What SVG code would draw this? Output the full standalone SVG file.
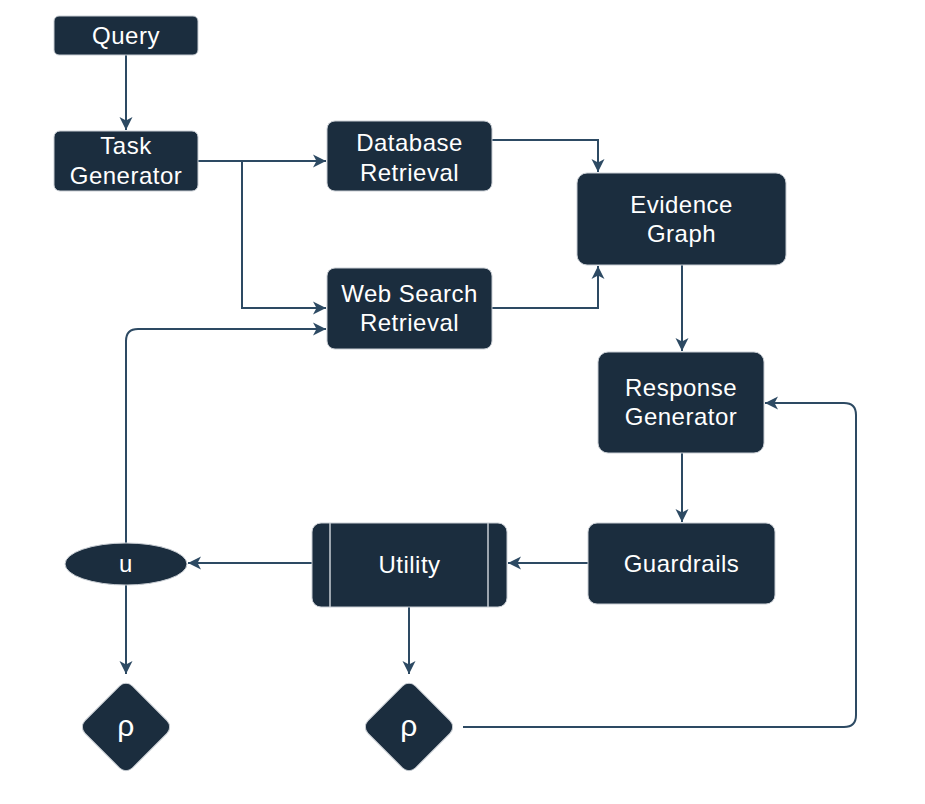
<svg xmlns="http://www.w3.org/2000/svg" width="925" height="804" viewBox="0 0 925 804">
<defs>
<style>
.n{fill:#1b2d3e;stroke:#c9ced4;stroke-width:1}
.t{fill:#ffffff;font-family:"Liberation Sans",Arial,sans-serif;font-size:24px;letter-spacing:0.5px;text-anchor:middle}
.c{fill:none;stroke:#2d4a63;stroke-width:2}
</style>
<marker id="ah" markerUnits="userSpaceOnUse" markerWidth="14" markerHeight="14" refX="13" refY="7" orient="auto">
<path d="M0,0.5 L13,7 L0,13.5 L3.5,7 Z" fill="#2d4a63"/>
</marker>
</defs>
<rect width="925" height="804" fill="#ffffff"/>
<g id="connectors">
<path class="c" d="M126,55 V130" marker-end="url(#ah)"/>
<path class="c" d="M198,161 H326" marker-end="url(#ah)"/>
<path class="c" d="M242,161 V308 H326" marker-end="url(#ah)"/>
<path class="c" d="M492,140 H598 V172" marker-end="url(#ah)"/>
<path class="c" d="M492,308 H598 V266" marker-end="url(#ah)"/>
<path class="c" d="M682,265 V351" marker-end="url(#ah)"/>
<path class="c" d="M682,453 V522" marker-end="url(#ah)"/>
<path class="c" d="M588,563 H508" marker-end="url(#ah)"/>
<path class="c" d="M312,563 H188" marker-end="url(#ah)"/>
<path class="c" d="M126,585 V674" marker-end="url(#ah)"/>
<path class="c" d="M126,543 V341 Q126,329 138,329 H326" marker-end="url(#ah)"/>
<path class="c" d="M409,607 V674" marker-end="url(#ah)"/>
<path class="c" d="M463,727 H844 Q856,727 856,715 V415 Q856,403 844,403 H765" marker-end="url(#ah)"/>
</g>
<g id="query">
<rect class="n" x="54" y="16" width="144" height="39" rx="5"/>
<text class="t" x="126" y="44">Query</text>
</g>
<g id="task-generator">
<rect class="n" x="54" y="131" width="144" height="60" rx="6"/>
<text class="t" x="126" y="154">Task</text>
<text class="t" x="126" y="184">Generator</text>
</g>
<g id="database-retrieval">
<rect class="n" x="327" y="121" width="165" height="70" rx="8"/>
<text class="t" x="409.5" y="151">Database</text>
<text class="t" x="409.5" y="181">Retrieval</text>
</g>
<g id="web-search-retrieval">
<rect class="n" x="327" y="268" width="165" height="81" rx="8"/>
<text class="t" x="409.5" y="302">Web Search</text>
<text class="t" x="409.5" y="331">Retrieval</text>
</g>
<g id="evidence-graph">
<rect class="n" x="577" y="173" width="209" height="92" rx="10"/>
<text class="t" x="681.5" y="213">Evidence</text>
<text class="t" x="681.5" y="242">Graph</text>
</g>
<g id="response-generator">
<rect class="n" x="598" y="352" width="166" height="101" rx="10"/>
<text class="t" x="681" y="396">Response</text>
<text class="t" x="681" y="425">Generator</text>
</g>
<g id="guardrails">
<rect class="n" x="588" y="523" width="187" height="81" rx="9"/>
<text class="t" x="681.5" y="572">Guardrails</text>
</g>
<g id="utility">
<rect class="n" x="312" y="523" width="195" height="84" rx="9"/>
<line x1="330" y1="523" x2="330" y2="607" stroke="#c9ced4" stroke-width="1.5"/>
<line x1="488" y1="523" x2="488" y2="607" stroke="#c9ced4" stroke-width="1.5"/>
<text class="t" x="409.5" y="573">Utility</text>
</g>
<g id="u">
<ellipse class="n" cx="126" cy="564" rx="61" ry="21"/>
<text class="t" x="126" y="572">u</text>
</g>
<g id="rho-left">
<rect class="n" x="-33.5" y="-33.5" width="67" height="67" rx="9" transform="translate(126,727) rotate(45)"/>
<text class="t" x="126" y="736" style="font-size:30px">ρ</text>
</g>
<g id="rho-right">
<rect class="n" x="-33.5" y="-33.5" width="67" height="67" rx="9" transform="translate(409,727) rotate(45)"/>
<text class="t" x="409" y="736" style="font-size:30px">ρ</text>
</g>
</svg>
